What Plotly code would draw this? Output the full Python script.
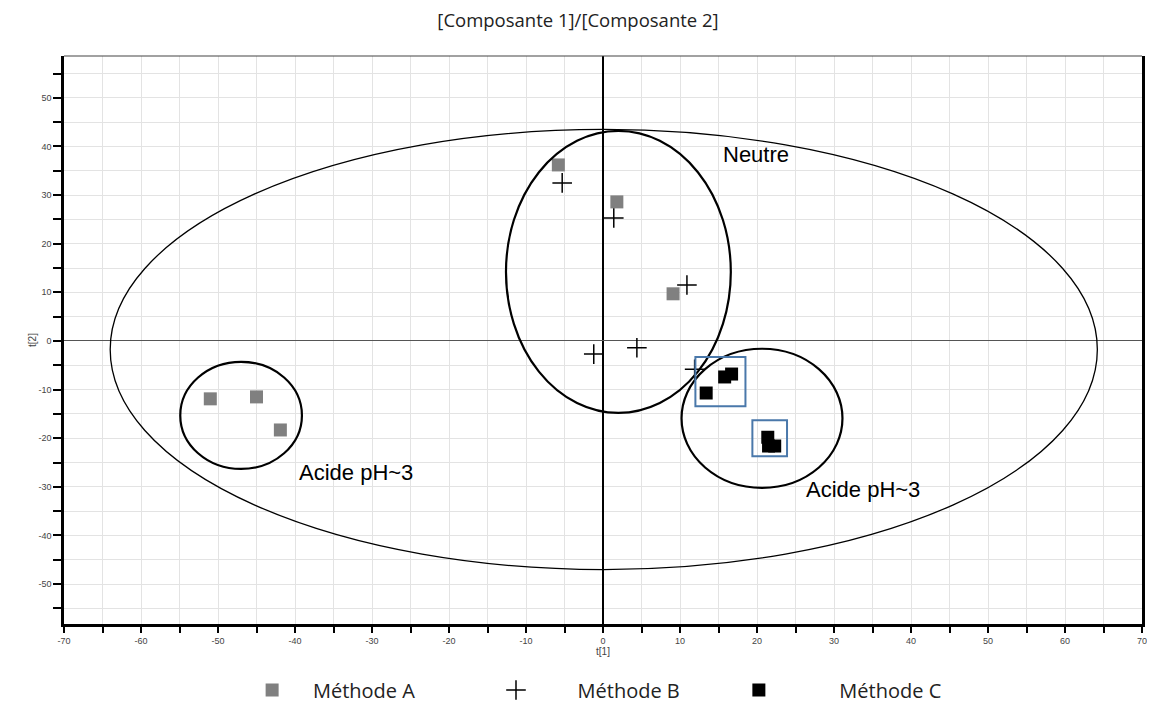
import plotly.graph_objects as go

# ---------------- data ----------------
a_x = [-5.8, 1.8, 9.1, -51.0, -45.0, -41.9]
a_y = [36.2, 28.6, 9.7, -11.9, -11.5, -18.3]
b_x = [-5.3, 1.4, 10.9, -1.2, 4.4, 11.9]
b_y = [32.5, 25.3, 11.5, -2.7, -1.4, -5.8]
c_x = [13.4, 15.8, 16.7, 21.4, 22.3, 21.5]
c_y = [-10.7, -7.4, -6.8, -19.8, -21.6, -21.6]

series_names = ["Méthode A", "Méthode B", "Méthode C"]

# annotation groups (ellipses: x0, x1, y0, y1)
big_ellipse = [-64.0, 64.2, -47.0, 43.5]
group_ellipses = [
    [-12.6, 16.6, -14.8, 43.2],
    [-54.9, -39.1, -26.3, -4.3],
    [10.2, 31.1, -30.2, -1.6],
]
blue_boxes = [
    [12.0, 18.5, -13.4, -3.3],
    [19.4, 23.9, -23.7, -16.3],
]
labels = [
    ("Neutre", 15.3, 38.3),
    ("Acide pH~3", -39.8, -27.0),
    ("Acide pH~3", 26.1, -30.5),
]
x_ticks = list(range(-70, 71, 10))
y_ticks = list(range(-50, 51, 10))

# page offset (browser body margin)
OFF = 8
PLOT_L, PLOT_R, PLOT_T, PLOT_B = 64, 1147, 56, 624
FIG_W, FIG_H = 1155 - OFF, 720
plot_w = PLOT_R - PLOT_L
plot_h = PLOT_B - PLOT_T

fig = go.Figure()

fig.add_trace(go.Scatter(
    x=a_x, y=a_y, mode="markers", name="    " + series_names[0], legend="legend",
    marker=dict(symbol="square", size=13, color="#808080"),
))
fig.add_trace(go.Scatter(
    x=b_x, y=b_y, mode="markers", name="        " + series_names[1], legend="legend2",
    marker=dict(symbol="cross-thin", size=14, color="black", line=dict(color="black", width=1.5)),
))
fig.add_trace(go.Scatter(
    x=c_x, y=c_y, mode="markers", name="           \u2009" + series_names[2], legend="legend3",
    marker=dict(symbol="square", size=13, color="black"),
))

shapes = []
x0, x1, y0, y1 = big_ellipse
shapes.append(dict(type="circle", xref="x", yref="y", x0=x0, x1=x1, y0=y0, y1=y1,
                   line=dict(color="black", width=1.3), layer="above"))
for e in group_ellipses:
    shapes.append(dict(type="circle", xref="x", yref="y", x0=e[0], x1=e[1], y0=e[2], y1=e[3],
                       line=dict(color="black", width=2.2), layer="above"))
for b in blue_boxes:
    shapes.append(dict(type="rect", xref="x", yref="y", x0=b[0], x1=b[1], y0=b[2], y1=b[3],
                       line=dict(color="#4a78aa", width=2), layer="above"))
# thin top frame line
shapes.append(dict(type="line", xref="paper", yref="paper", x0=0, x1=1, y0=1, y1=1,
                   line=dict(color="#444444", width=1.2)))
fig.update_layout(shapes=shapes)

for txt, tx, ty in labels:
    fig.add_annotation(x=tx, y=ty, text=txt, showarrow=False, xanchor="left", yanchor="middle",
                       font=dict(family="Liberation Sans, Arial", size=22, color="black"))

tickfont = dict(family="Liberation Sans, Arial", size=9, color="#444444")

fig.update_xaxes(
    range=[-70, 70], tickvals=x_ticks, ticktext=[str(v) for v in x_ticks],
    showgrid=True, gridcolor="#e3e3e3", gridwidth=1,
    minor=dict(dtick=5, tick0=0, showgrid=True, gridcolor="#e3e3e3", ticks="outside",
               ticklen=6, tickcolor="black", tickwidth=2),
    ticks="outside", ticklen=6, tickcolor="black", tickwidth=2,
    showline=True, linecolor="black", linewidth=2.5, mirror=False,
    zeroline=True, zerolinecolor="black", zerolinewidth=2,
    tickfont=tickfont,
    title=dict(text="t[1]", font=dict(family="Liberation Sans, Arial", size=10, color="#444444"), standoff=2),
)
fig.update_yaxes(
    range=[-58.2, 58.6], tickvals=y_ticks, ticktext=[str(v) for v in y_ticks],
    showgrid=True, gridcolor="#e3e3e3", gridwidth=1,
    minor=dict(dtick=5, tick0=0, showgrid=True, gridcolor="#e3e3e3", ticks="outside",
               ticklen=8, tickcolor="black", tickwidth=2),
    ticks="outside", ticklen=8, tickcolor="black", tickwidth=2,
    showline=True, linecolor="black", linewidth=2.5, mirror=True,
    zeroline=True, zerolinecolor="#555555", zerolinewidth=1,
    tickfont=tickfont,
    title=dict(text="t[2]", font=dict(family="Liberation Sans, Arial", size=10, color="#444444"), standoff=0),
)

legend_y = -(690 - PLOT_B) / plot_h
legend_common = dict(orientation="h", yanchor="middle", y=legend_y, xanchor="left",
                     bgcolor="rgba(0,0,0,0)", borderwidth=0,
                     font=dict(family="Open Sans, Noto Sans", size=20, color="#222222"))

def leg_x(symbol_px):
    return (symbol_px - 19 - PLOT_L) / plot_w

fig.update_layout(
    width=FIG_W, height=FIG_H,
    margin=dict(l=PLOT_L - OFF, r=FIG_W + OFF - PLOT_R, t=PLOT_T - OFF, b=FIG_H + OFF - PLOT_B),
    paper_bgcolor="white", plot_bgcolor="white",
    title=dict(text="[Composante 1]/[Composante 2]", x=(578 - OFF) / FIG_W, xanchor="center",
               y=1 - (21 - OFF) / FIG_H, yanchor="middle",
               font=dict(family="Open Sans, Noto Sans", size=18.5, color="#222222")),
    showlegend=True,
    legend=dict(legend_common, x=leg_x(272)),
    legend2=dict(legend_common, x=leg_x(517)),
    legend3=dict(legend_common, x=leg_x(761)),
)

fig.write_html("out.html")
